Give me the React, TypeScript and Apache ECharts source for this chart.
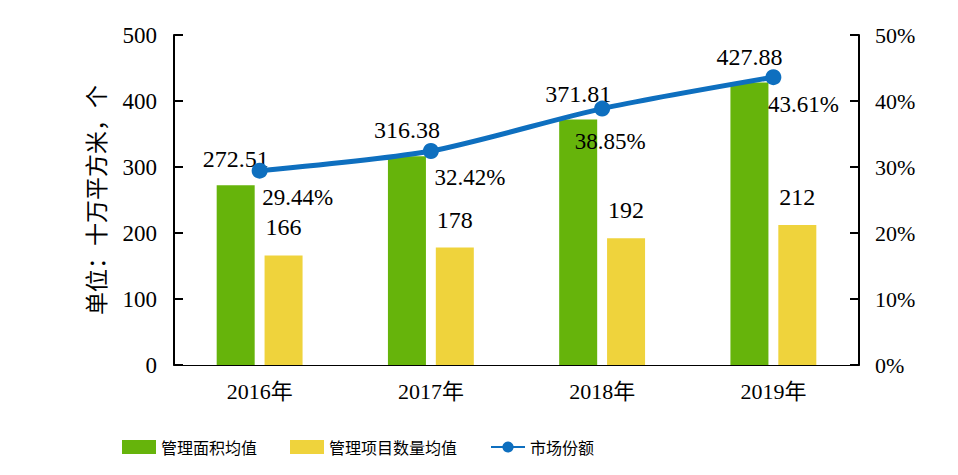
import React, { useEffect, useRef } from "react";
import * as echarts from "echarts";

const categories = ["2016年", "2017年", "2018年", "2019年"];
const areaAvg = [272.51, 316.38, 371.81, 427.88];
const projectAvg = [166, 178, 192, 212];
const marketShare = [29.44, 32.42, 38.85, 43.61];
const shareLabelOffsets = [
  [38, 27],
  [39, 26],
  [8, 33],
  [30, 27],
];

const FONT = "'Liberation Serif', 'DejaVu Serif', 'Noto Sans CJK SC', serif";
const CJK = "'Noto Sans CJK SC', 'Liberation Serif', sans-serif";

export default function App() {
  const ref = useRef<HTMLDivElement>(null);
  useEffect(() => {
    if (!ref.current) return;
    const chart = echarts.init(ref.current, undefined, { renderer: "svg" });
    chart.setOption({
      animation: false,
      backgroundColor: "#ffffff",
      grid: { left: 174, right: 99, top: 35, bottom: 110, containLabel: false },
      legend: {
        left: 117,
        top: 434,
        itemWidth: 34,
        itemHeight: 14,
        itemGap: 33,
        textStyle: { fontFamily: CJK, fontSize: 16, color: "#000" },
        data: [
          { name: "管理面积均值", icon: "rect" },
          { name: "管理项目数量均值", icon: "rect" },
          { name: "市场份额" },
        ],
      },
      xAxis: {
        type: "category",
        data: categories,
        axisLine: { lineStyle: { color: "#000", width: 1 } },
        axisTick: { show: false },
        axisLabel: { fontFamily: FONT, fontSize: 22, color: "#000", margin: 15 },
      },
      yAxis: [
        {
          type: "value",
          min: 0,
          max: 500,
          interval: 100,
          name: "单位：十万平方米，个",
          nameLocation: "middle",
          nameGap: 68,
          nameTextStyle: { fontFamily: CJK, fontSize: 23, color: "#000" },
          axisLine: { show: true, lineStyle: { color: "#000", width: 2 } },
          axisTick: { show: true, inside: true, length: 9, lineStyle: { color: "#000", width: 2 } },
          axisLabel: { fontFamily: FONT, fontSize: 23, color: "#000", margin: 17 },
          splitLine: { show: false },
        },
        {
          type: "value",
          min: 0,
          max: 50,
          interval: 10,
          position: "right",
          axisLine: { show: true, lineStyle: { color: "#000", width: 2 } },
          axisTick: { show: true, inside: true, length: 9, lineStyle: { color: "#000", width: 2 } },
          axisLabel: { fontFamily: FONT, fontSize: 22, color: "#000", margin: 16, formatter: "{value}%" },
          splitLine: { show: false },
        },
      ],
      series: [
        {
          name: "管理面积均值",
          type: "bar",
          data: areaAvg,
          barWidth: 38,
          barGap: "26%",
          itemStyle: { color: "#66B40B" },
          label: {
            show: true,
            position: "top",
            distance: 14,
            fontFamily: FONT,
            fontSize: 24,
            color: "#000",
          },
        },
        {
          name: "管理项目数量均值",
          type: "bar",
          data: projectAvg,
          barWidth: 38,
          itemStyle: { color: "#EFD33C" },
          label: {
            show: true,
            position: "top",
            distance: 16,
            fontFamily: FONT,
            fontSize: 24,
            color: "#000",
          },
        },
        {
          name: "市场份额",
          type: "line",
          yAxisIndex: 1,
          smooth: 0.25,
          symbol: "circle",
          symbolSize: 16,
          lineStyle: { color: "#0E6FBF", width: 5 },
          itemStyle: { color: "#0E6FBF" },
          data: marketShare.map((v, i) => ({
            value: v,
            label: { offset: shareLabelOffsets[i] },
          })),
          label: {
            show: true,
            position: "inside",
            formatter: "{c}%",
            fontFamily: FONT,
            fontSize: 23,
            color: "#000",
          },
          z: 5,
        },
      ],
    });
    return () => chart.dispose();
  }, []);
  return <div ref={ref} style={{ width: 958, height: 475, marginLeft: -8, marginTop: -8 }} />;
}
